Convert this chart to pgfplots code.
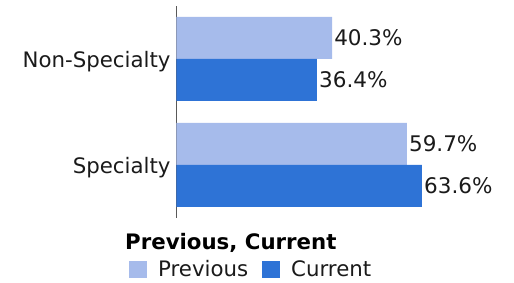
\documentclass[border=0pt]{standalone}
\usepackage{fontspec}
\setmainfont{DejaVu Sans}
\usepackage{pgfplots}
\pgfplotsset{compat=1.18}
\definecolor{prevc}{RGB}{166,187,235}
\definecolor{currc}{RGB}{46,115,214}
\definecolor{txt}{RGB}{26,26,26}
\begin{document}
\begin{tikzpicture}
\useasboundingbox (-176.5pt,-65pt) rectangle (337.5pt,218pt);
\begin{axis}[
  at={(0pt,0pt)}, anchor=south west,
  scale only axis, width=308.8pt, height=212pt,
  xbar, bar width=42pt,
  xmin=0, xmax=80, ymin=-0.5, ymax=1.5,
  axis x line=none,
  axis y line*=left,
  y axis line style={-, draw=gray!70!black, line width=1.2pt},
  ytick={0,1}, yticklabels={Specialty, Non-Specialty},
  ytick style={draw=none},
  yticklabel style={font=\fontsize{21.3}{24}\selectfont, text=txt, inner sep=0pt, xshift=-1.5pt, yshift=-2.5pt},
  nodes near coords={\pgfmathprintnumber[fixed,precision=1,fixed zerofill]{\pgfplotspointmeta}\%},
  nodes near coords style={font=\fontsize{21.5}{24}\selectfont, text=txt, anchor=west, inner sep=0pt, xshift=2pt},
  /pgf/number format/assume math mode=true,
  legend columns=2,
  legend style={at={(-0.1538,-0.243)}, anchor=west, draw=none, fill=none, inner sep=0pt,
    nodes={inner sep=0pt, font=\fontsize{21.3}{24}\selectfont, text=txt},
    /tikz/column sep=11pt,
    /tikz/every even column/.append style={column sep=14pt}},
  legend image code/.code={\fill[#1] (0pt,-8.5pt) rectangle (18pt,8.5pt);},
]
\addplot[fill=prevc, draw=none, bar shift=21pt] coordinates {(59.7,0) (40.3,1)};
\addplot[fill=currc, draw=none, bar shift=-21pt] coordinates {(63.6,0) (36.4,1)};
\legend{Previous, Current}
\end{axis}
\node[anchor=base west, inner sep=0pt, font=\fontsize{21.3}{24}\selectfont\bfseries, text=black] at (-51.5pt,-32pt) {Previous, Current};
\end{tikzpicture}
\end{document}
